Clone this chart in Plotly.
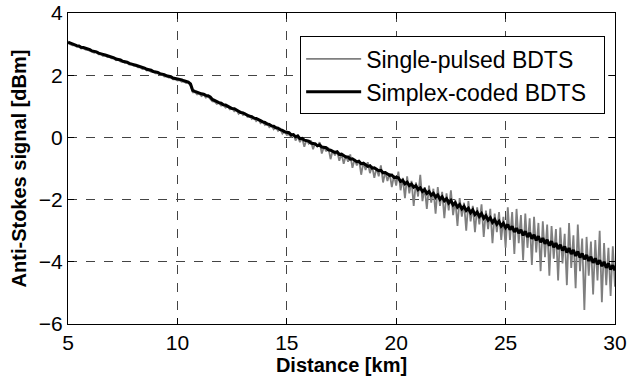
import numpy as np
import plotly.graph_objects as go

# Distance grid (km), 0.1 km sampling from 5 to 30
distance_km = np.round(5.0 + 0.1 * np.arange(251), 1)

# Simplex-coded BDTS anti-Stokes signal [dBm]
simplex_coded = [
    3.06, 3.03, 3.00, 2.99, 2.95, 2.94, 2.90, 2.89, 2.87, 2.83,
    2.82, 2.78, 2.77, 2.75, 2.71, 2.70, 2.67, 2.65, 2.63, 2.59,
    2.58, 2.56, 2.52, 2.51, 2.49, 2.45, 2.44, 2.42, 2.38, 2.37,
    2.34, 2.32, 2.30, 2.26, 2.25, 2.23, 2.19, 2.18, 2.16, 2.12,
    2.11, 2.09, 2.05, 2.04, 2.02, 1.98, 1.97, 1.95, 1.91, 1.90,
    1.87, 1.86, 1.85, 1.82, 1.81, 1.78, 1.72, 1.51, 1.48, 1.45,
    1.44, 1.40, 1.39, 1.35, 1.34, 1.30, 1.22, 1.18, 1.16, 1.12,
    1.10, 1.05, 1.04, 1.00, 0.98, 0.93, 0.92, 0.87, 0.85, 0.80,
    0.79, 0.75, 0.73, 0.68, 0.67, 0.62, 0.61, 0.56, 0.54, 0.50,
    0.48, 0.43, 0.42, 0.37, 0.36, 0.31, 0.30, 0.25, 0.23, 0.18,
    0.17, 0.15, 0.08, 0.09, 0.02, 0.05, -0.04, -0.03, -0.09, -0.11,
    -0.12, -0.18, -0.19, -0.21, -0.27, -0.24, -0.31, -0.33, -0.33, -0.40,
    -0.41, -0.45, -0.48, -0.46, -0.55, -0.54, -0.60, -0.63, -0.63, -0.70,
    -0.69, -0.75, -0.78, -0.77, -0.85, -0.83, -0.89, -0.93, -0.91, -0.99,
    -0.98, -1.04, -1.07, -1.06, -1.14, -1.13, -1.18, -1.22, -1.21, -1.29,
    -1.28,
    -1.30, -1.42, -1.38, -1.49, -1.44, -1.55, -1.50, -1.60, -1.55, -1.68,
    -1.62, -1.74, -1.68, -1.80, -1.74, -1.86, -1.80, -1.92, -1.85, -1.99,
    -1.91, -2.04, -1.97, -2.11, -2.03, -2.17, -2.10, -2.24, -2.16, -2.30,
    -2.22, -2.35, -2.28, -2.42, -2.33, -2.48, -2.40, -2.54, -2.45, -2.60,
    -2.52, -2.66, -2.58, -2.73, -2.64, -2.79, -2.70, -2.85, -2.76, -2.90,
    -2.80, -2.97, -2.86, -3.04, -2.92, -3.08, -2.97, -3.15, -3.02, -3.20,
    -3.07, -3.26, -3.13, -3.31, -3.18, -3.37, -3.24, -3.42, -3.29, -3.48,
    -3.34, -3.53, -3.40, -3.59, -3.45, -3.64, -3.51, -3.70, -3.56, -3.75,
    -3.62, -3.81, -3.67, -3.86, -3.73, -3.92, -3.78, -3.97, -3.84, -4.03,
    -3.89, -4.08, -3.95, -4.14, -4.00, -4.19, -4.05, -4.25, -4.11, -4.28,
]

# Single-pulsed BDTS anti-Stokes signal [dBm]
single_pulsed = [
    3.03, 3.00, 2.96, 2.97, 2.91, 2.92, 2.86, 2.87, 2.82, 2.81,
    2.78, 2.77, 2.72, 2.74, 2.67, 2.68, 2.62, 2.64, 2.58, 2.58,
    2.54, 2.53, 2.48, 2.50, 2.44, 2.44, 2.39, 2.40, 2.34, 2.35,
    2.30, 2.30, 2.25, 2.26, 2.20, 2.21, 2.15, 2.16, 2.11, 2.10,
    2.06, 2.07, 2.01, 2.02, 1.96, 1.97, 1.92, 1.92, 1.87, 1.87,
    1.83, 1.84, 1.79, 1.80, 1.75, 1.76, 1.66, 1.45, 1.46, 1.38,
    1.41, 1.33, 1.37, 1.28, 1.31, 1.24, 1.16, 1.15, 1.08, 1.11,
    1.02, 1.05, 0.96, 0.99, 0.90, 0.94, 0.84, 0.88, 0.76, 0.82,
    0.72, 0.76, 0.66, 0.70, 0.59, 0.64, 0.52, 0.58, 0.46, 0.51,
    0.40, 0.45, 0.33, 0.39, 0.26, 0.33, 0.21, 0.27, 0.12, 0.20,
    0.08, 0.10, 0.02, 0.12, -0.10, 0.03, -0.15, -0.02, -0.30, -0.08,
    -0.20, -0.10, -0.38, -0.18, -0.30, -0.15, -0.52, -0.30, -0.45, -0.33,
    -0.70, -0.42, -0.58, -0.45, -0.75, -0.52, -0.85, -0.58, -0.78, -0.55,
    -0.98, -0.70, -0.90, -0.72, -1.20, -0.80, -1.05, -0.80, -1.15, -0.92,
    -1.30, -0.98, -1.25, -0.90, -1.45, -1.10, -1.40, -1.15, -1.60, -1.22,
    -1.55,
    -1.10, -1.70, -1.30, -1.95, -1.25, -1.80, -1.40, -2.20, -1.45, -1.90,
    -1.20, -2.05, -1.60, -2.30, -1.55, -2.10, -1.65, -2.45, -1.60, -2.20,
    -1.75, -2.60, -1.80, -2.35, -1.70, -2.50, -2.00, -2.85, -1.95, -2.55,
    -2.10, -3.00, -2.05, -2.70, -2.20, -3.05, -2.25, -2.80, -2.15, -3.20,
    -2.35, -2.95, -2.30, -3.40, -2.45, -3.05, -2.40, -3.30, -2.55, -3.55,
    -2.25, -3.30, -2.40, -3.75, -2.30, -3.40, -2.50, -3.95, -2.45, -3.55,
    -2.60, -4.10, -2.55, -3.70, -2.75, -4.30, -2.70, -3.85, -2.80, -4.45,
    -2.85, -3.90, -2.95, -4.60, -2.90, -4.05, -3.10, -4.75, -2.75, -4.20,
    -3.15, -4.85, -2.80, -4.30, -3.25, -5.55, -3.20, -4.45, -3.35, -5.05,
    -3.30, -4.60, -3.00, -5.30, -3.40, -4.75, -3.55, -5.10, -3.50, -4.80,
]

series_names = ["Single-pulsed BDTS", "Simplex-coded BDTS"]
x_ticks = [5, 10, 15, 20, 25, 30]
y_ticks = [-6, -4, -2, 0, 2, 4]

FONT = "Liberation Sans, Arial, sans-serif"
PAD = "\u00a0" * 2  # right padding inside the legend box

fig = go.Figure()
fig.add_trace(go.Scatter(
    x=distance_km, y=single_pulsed, mode="lines",
    name=series_names[0] + PAD,
    line=dict(color="#7f7f7f", width=1.8),
))
fig.add_trace(go.Scatter(
    x=distance_km, y=simplex_coded, mode="lines",
    name=series_names[1] + PAD,
    line=dict(color="#000000", width=3),
))

axis_common = dict(
    showline=True, linecolor="black", linewidth=1, mirror="ticks",
    ticks="inside", ticklen=6, tickcolor="black", tickwidth=1,
    showgrid=True, gridcolor="#444444", gridwidth=1, griddash="dash",
    zeroline=False, ticklabeloverflow="allow", automargin=False,
    tickfont=dict(family=FONT, size=21, color="black"),
)

fig.update_layout(
    width=640, height=385,
    margin=dict(l=68, r=25, t=13, b=61),
    paper_bgcolor="white", plot_bgcolor="white",
    showlegend=True,
    legend=dict(
        x=0.982, y=0.925, xanchor="right", yanchor="top",
        bgcolor="white", bordercolor="black", borderwidth=1,
        font=dict(family=FONT, size=23, color="black"),
        itemwidth=55, tracegroupgap=0,
    ),
    xaxis=dict(
        range=[5, 30], tickvals=x_ticks,
        title=dict(text="<b>Distance [km]</b>", font=dict(family=FONT, size=20, color="black"), standoff=4),
        **axis_common,
    ),
    yaxis=dict(
        range=[-6, 4], tickvals=y_ticks,
        title=dict(text="<b>Anti-Stokes signal [dBm]</b>", font=dict(family=FONT, size=20, color="black"), standoff=6),
        **axis_common,
    ),
)

fig.write_html("out.html")
